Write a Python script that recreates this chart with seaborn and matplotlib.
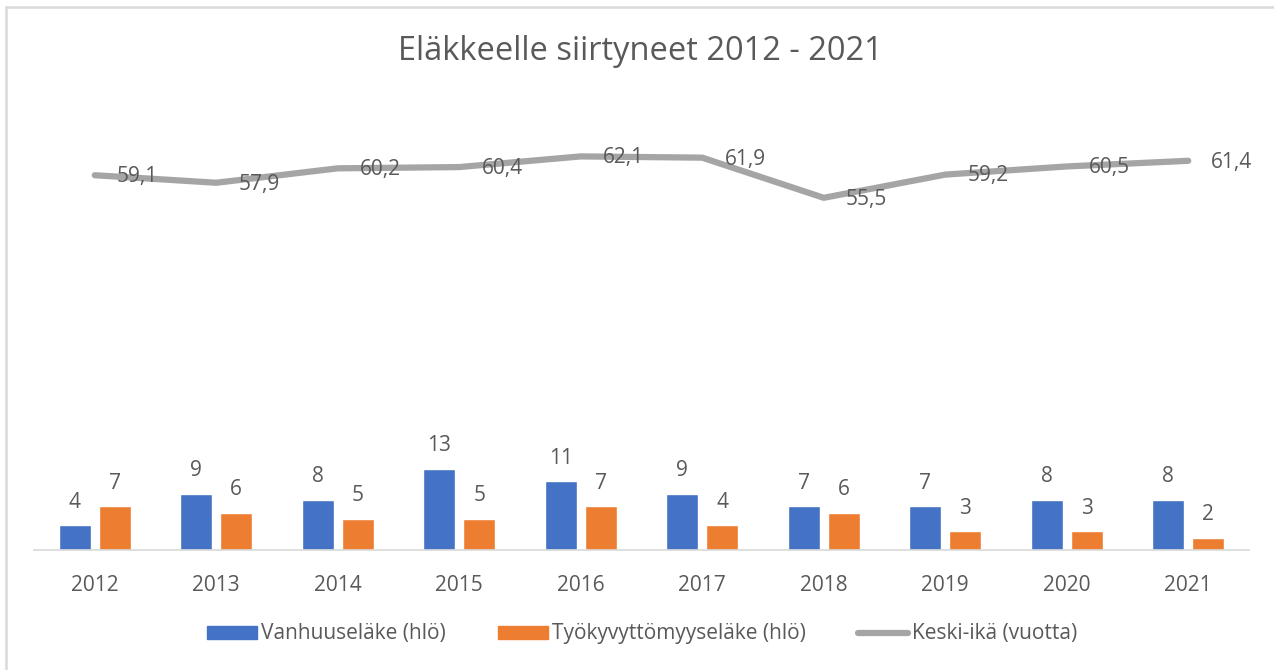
import numpy as np
import pandas as pd
import matplotlib
matplotlib.use('Agg')
import matplotlib.pyplot as plt
import seaborn as sns
from matplotlib.lines import Line2D

years      = ['2012', '2013', '2014', '2015', '2016', '2017', '2018', '2019', '2020', '2021']
vanhuus    = [4, 9, 8, 13, 11, 9, 7, 7, 8, 8]
tyokyvyt   = [7, 6, 5, 5, 7, 4, 6, 3, 3, 2]
keski_ika  = [59.1, 57.9, 60.2, 60.4, 62.1, 61.9, 55.5, 59.2, 60.5, 61.4]
series     = ['Vanhuuseläke (hlö)', 'Työkyvyttömyyseläke (hlö)']
line_label = 'Keski-ikä (vuotta)'

BLUE, ORANGE, GRAY = '#4472C4', '#ED7D31', '#A5A5A5'
TXT = '#595959'

sns.set_theme(style='white')
plt.rcParams['font.family'] = ['Open Sans', 'DejaVu Sans']

df = pd.DataFrame({
    'year'  : years * 2,
    'series': [series[0]] * len(years) + [series[1]] * len(years),
    'value' : vanhuus + tyokyvyt,
})

fig = plt.figure(figsize=(12.74, 6.70), dpi=100)
ax = fig.add_axes([34 / 1274, 1 - 550 / 670, 1215 / 1274, 437.5 / 670])

sns.barplot(data=df, x='year', y='value', hue='series', palette=[BLUE, ORANGE],
            width=0.66, gap=0.2, saturation=1, ax=ax, legend=False)
for cont in ax.containers:
    ax.bar_label(cont, padding=9, fontsize=15, color=TXT)

ax.set_ylim(0, 70)
ax.set_xlim(-0.5, len(years) - 0.5)
ax.set_yticks([])
ax.set_xlabel('')
ax.set_ylabel('')
ax.tick_params(axis='x', length=0, pad=18, labelsize=15, labelcolor=TXT)
for s in ['top', 'left', 'right']:
    ax.spines[s].set_visible(False)
ax.spines['bottom'].set_color('#D9D9D9')
ax.spines['bottom'].set_linewidth(1.2)

# age line sits on its own (hidden) axis, a few pixels higher like in Excel
ax2 = ax.twinx()
pos = np.arange(len(years))
sns.lineplot(x=pos, y=keski_ika, color=GRAY, linewidth=4.5, ax=ax2, legend=False)
for x, v in zip(pos, keski_ika):
    ax2.annotate(f'{v:.1f}'.replace('.', ','), (x, v), xytext=(16, -1),
                 textcoords='offset points', ha='left', va='center',
                 fontsize=15, color=TXT)
ax2.set_ylim(-0.65, 69.1)
ax2.set_xlim(-0.5, len(years) - 0.5)
ax2.set_yticks([])
ax2.set_ylabel('')
for s in ax2.spines.values():
    s.set_visible(False)

fig.text(640 / 1274, 1 - 51 / 670, 'Eläkkeelle siirtyneet 2012 - 2021',
         ha='center', va='center', fontsize=23.5, color=TXT)

handles = [
    plt.Rectangle((0, 0), 1, 1, color=BLUE),
    plt.Rectangle((0, 0), 1, 1, color=ORANGE),
    Line2D([0], [0], color=GRAY, linewidth=4.5),
]
fig.legend(handles, series + [line_label], loc='center', ncol=3,
           bbox_to_anchor=(642 / 1274, 1 - 634 / 670), frameon=False,
           fontsize=15, labelcolor=TXT, handlelength=2.4, handleheight=0.6,
           handletextpad=0.2, columnspacing=2.5)

# light frame at the top and left edge
fig.add_artist(Line2D([6 / 1274, 6 / 1274], [0, 1 - 7 / 670], color='#D9D9D9',
                      linewidth=1.8, transform=fig.transFigure))
fig.add_artist(Line2D([6 / 1274, 1], [1 - 7 / 670, 1 - 7 / 670], color='#D9D9D9',
                      linewidth=1.8, transform=fig.transFigure))

plt.savefig('out.png', dpi=100)
plt.close()
